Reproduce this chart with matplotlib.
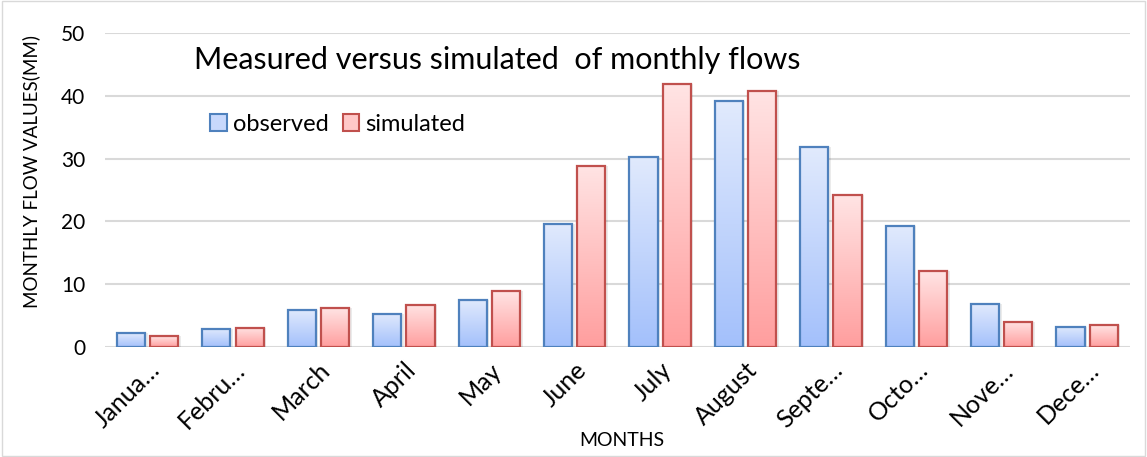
import matplotlib.pyplot as plt
import numpy as np
from matplotlib.colors import LinearSegmentedColormap
from matplotlib.patches import Rectangle

plt.rcParams["font.family"] = ["Lato", "DejaVu Sans"]

MONTHS = ["Janua…", "Febru…", "March", "April", "May", "June",
          "July", "August", "Septe…", "Octo…", "Nove…", "Dece…"]
OBSERVED = [2.2, 2.9, 5.9, 5.3, 7.5, 19.6, 30.3, 39.1, 31.8, 19.3, 6.8, 3.2]
SIMULATED = [1.7, 3.1, 6.2, 6.7, 8.9, 28.9, 41.8, 40.8, 24.2, 12.1, 4.0, 3.5]

BLUE_EDGE = "#4f81bd"
RED_EDGE = "#c0504d"
BLUE_GRAD = LinearSegmentedColormap.from_list("b", ["#a3c0fb", "#e1eafd"])
RED_GRAD = LinearSegmentedColormap.from_list("r", ["#ff9e9e", "#ffe4e4"])


def gradient_bars(ax, bars, cmap):
    grad = np.linspace(0, 1, 256).reshape(-1, 1)
    for b in bars:
        x, y = b.get_x(), b.get_y()
        w, h = b.get_width(), b.get_height()
        im = ax.imshow(grad, cmap=cmap, origin="lower", aspect="auto",
                       extent=[x, x + w, y, y + h], zorder=2)
        im.set_clip_path(b)
        # soft shadow
        ax.add_patch(Rectangle((x + 0.03, y), w, h, facecolor="#000000",
                               alpha=0.08, edgecolor="none", zorder=1.5))


fig = plt.figure(figsize=(11.47, 4.57), dpi=100)
ax = fig.add_axes([0.0915, 0.2407, 0.8935, 0.6871])

x = np.arange(len(MONTHS))
w = 0.33
off = 0.195
b_obs = ax.bar(x - off, OBSERVED, w, facecolor="none", edgecolor=BLUE_EDGE,
               linewidth=1.6, zorder=3, label="observed")
b_sim = ax.bar(x + off, SIMULATED, w, facecolor="none", edgecolor=RED_EDGE,
               linewidth=1.6, zorder=3, label="simulated")
gradient_bars(ax, b_obs, BLUE_GRAD)
gradient_bars(ax, b_sim, RED_GRAD)

ax.set_xlim(-0.5, len(MONTHS) - 0.5)
ax.set_ylim(0, 50)
ax.set_yticks(range(0, 51, 10))
ax.yaxis.grid(True, color="#d9d9d9", linewidth=1.5)
ax.set_axisbelow(True)
for s in ax.spines.values():
    s.set_visible(False)
ax.tick_params(axis="both", length=0, colors="#000000")
ax.tick_params(axis="y", pad=14, labelsize=15)
ax.set_xticks(x)
ax.set_xticklabels(MONTHS, rotation=45, ha="right", rotation_mode="anchor", fontsize=18)
ax.tick_params(axis="x", pad=8)

# axis titles placed like the original (x title sits among the tick labels)
fig.text(31 / 1147, 1 - 172 / 457, "MONTHLY FLOW VALUES(MM)", rotation=90,
         fontsize=13.5, ha="center", va="center")
fig.text(622 / 1147, 1 - 440 / 457, "MONTHS", fontsize=14, ha="center", va="center")

ax.text(0.087, 0.915, "Measured versus simulated  of monthly flows",
        transform=ax.transAxes, fontsize=22, va="center")

# legend proxies
h1 = Rectangle((0, 0), 1, 1, facecolor="#c8d8fc", edgecolor=BLUE_EDGE, linewidth=1.5)
h2 = Rectangle((0, 0), 1, 1, facecolor="#ffc8c8", edgecolor=RED_EDGE, linewidth=1.5)
ax.legend([h1, h2], ["observed", "simulated"], loc="upper left",
          bbox_to_anchor=(0.082, 0.81), ncol=2, frameon=False, fontsize=17,
          handlelength=0.7, handleheight=0.7, handletextpad=0.25, columnspacing=0.6)

fig.patches.append(Rectangle((0.002, 0.003), 0.996, 0.994, transform=fig.transFigure,
                             facecolor="none", edgecolor="#d9d9d9", linewidth=1))

fig.savefig("out.png", dpi=100)
